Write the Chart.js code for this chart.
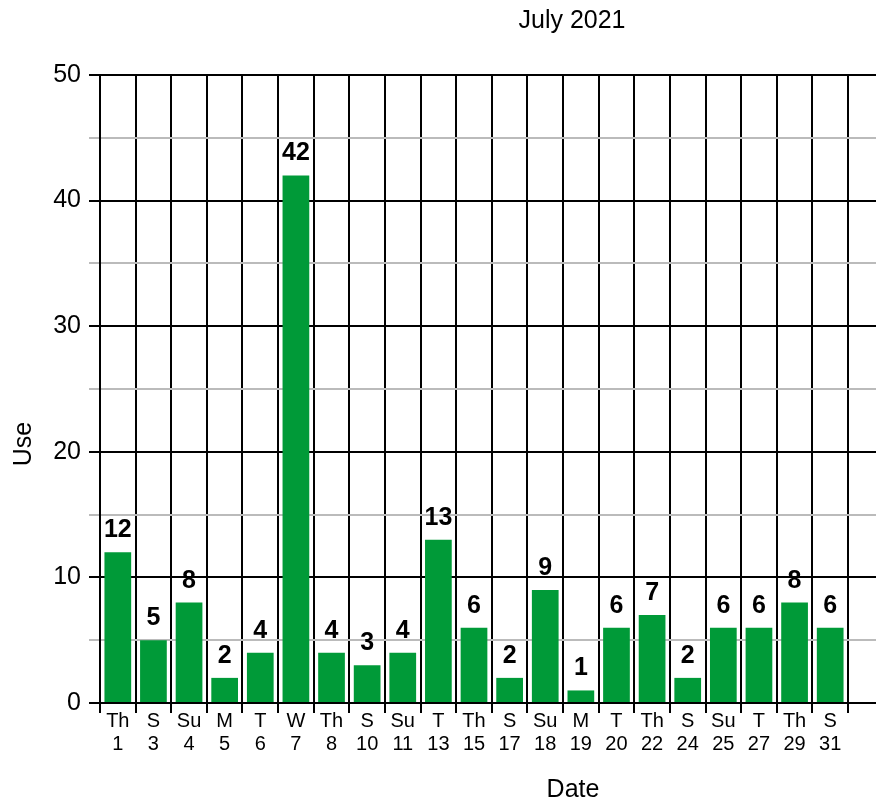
<!DOCTYPE html>
<html>
<head>
<meta charset="utf-8">
<script src="https://cdn.jsdelivr.net/npm/chart.js@4"></script>
<style>
  body { margin: 0; background: #fff; }
  #wrap { width: 876px; height: 803px; position: relative; }
</style>
</head>
<body>
<div id="wrap"><canvas id="chart"></canvas></div>
<script>
const weekdays = ['Th', 'S', 'Su', 'M', 'T', 'W', 'Th', 'S', 'Su', 'T', 'Th', 'S', 'Su', 'M', 'T', 'Th', 'S', 'Su', 'T', 'Th', 'S'];
const dates = ['1', '3', '4', '5', '6', '7', '8', '10', '11', '13', '15', '17', '18', '19', '20', '22', '24', '25', '27', '29', '31'];
const uses = [12, 5, 8, 2, 4, 42, 4, 3, 4, 13, 6, 2, 9, 1, 6, 7, 2, 6, 6, 8, 6];

const FONT = '"Liberation Sans", Arial, Helvetica, sans-serif';
const barColor = '#009a38';

// same pixel snapping that Chart.js uses for its grid lines
const alignPixel = (chart, pixel, width) => {
  const dpr = chart.currentDevicePixelRatio;
  const half = width / 2;
  return Math.round((pixel - half) * dpr) / dpr + half;
};

// horizontal grid lines run on to the right edge of the canvas
const extendGrid = {
  id: 'extendGrid',
  beforeDatasetsDraw(chart) {
    const { ctx, chartArea, scales } = chart;
    ctx.save();
    ctx.lineWidth = 2;
    scales.y.ticks.forEach((t) => {
      const y = alignPixel(chart, scales.y.getPixelForValue(t.value), 2);
      ctx.strokeStyle = t.value % 10 === 0 ? '#000' : '#bbbbbb';
      ctx.beginPath();
      ctx.moveTo(chartArea.right, y);
      ctx.lineTo(chart.width, y);
      ctx.stroke();
    });
    ctx.restore();
  },
};

// value on top of each bar, plus the titles
const labels = {
  id: 'labels',
  afterDatasetsDraw(chart) {
    const { ctx } = chart;
    ctx.save();
    ctx.fillStyle = '#000';
    ctx.textAlign = 'center';
    ctx.textBaseline = 'alphabetic';
    ctx.font = 'bold 25px ' + FONT;
    chart.getDatasetMeta(0).data.forEach((bar, i) => {
      ctx.fillText(String(uses[i]), bar.x, bar.y - 15);
    });
    ctx.font = '25px ' + FONT;
    ctx.fillText('July 2021', 572, 28);
    ctx.fillText('Date', 573, 797);
    ctx.translate(31, 444);
    ctx.rotate(-Math.PI / 2);
    ctx.fillText('Use', 0, 0);
    ctx.restore();
  },
};

const config = {
  type: 'bar',
  data: {
    labels: weekdays.map((d, i) => [d, dates[i]]),
    datasets: [
      {
        label: 'Use',
        data: uses,
        backgroundColor: barColor,
        categoryPercentage: 1,
        barPercentage: 0.75,
      },
    ],
  },
  plugins: [extendGrid, labels],
  options: {
    responsive: true,
    maintainAspectRatio: false,
    animation: false,
    layout: {
      padding: { top: 75, right: 28, left: 0, bottom: 0 },
    },
    plugins: {
      legend: { display: false },
      title: { display: false },
      tooltip: { enabled: false },
    },
    scales: {
      x: {
        afterFit: (scale) => {
          scale.height = 100;
        },
        grid: {
          offset: true,
          color: '#000',
          lineWidth: 2,
          tickLength: 10,
          tickColor: '#000',
        },
        border: { color: '#000', width: 2 },
        ticks: {
          color: '#000',
          padding: -3,
          maxRotation: 0,
          autoSkip: false,
          font: { family: FONT, size: 20, lineHeight: 1.15 },
        },
      },
      y: {
        min: 0,
        max: 50,
        afterFit: (scale) => {
          scale.width = 100;
        },
        grid: {
          color: (c) => (c.tick && c.tick.value % 10 === 0 ? '#000' : '#bbbbbb'),
          lineWidth: 2,
          tickLength: 11,
        },
        border: { color: '#000', width: 2 },
        ticks: {
          stepSize: 5,
          color: '#000',
          padding: 8,
          font: { family: FONT, size: 25 },
          callback: (v) => (v % 10 === 0 ? v : ''),
        },
      },
    },
  },
};

new Chart(document.getElementById('chart'), config);
</script>
</body>
</html>
